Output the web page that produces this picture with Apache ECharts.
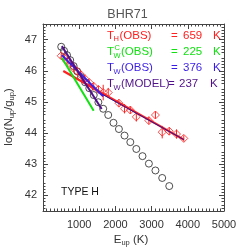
<!DOCTYPE html>
<html>
<head>
<meta charset="utf-8">
<script src="https://cdn.jsdelivr.net/npm/echarts@6/dist/echarts.min.js"></script>
<style>html,body{margin:0;padding:0;background:#fff}#c{width:249px;height:249px}</style>
</head>
<body>
<div id="c"></div>
<script>
// Model (open circles)
var modelE = [503,581,664,752,846,946,1051,1162,1279,1402,1530,1663,1802,1947,2097,2252,2412,2578,2749,2925,3106,3293,3488];
var modelLogN = [46.77,46.64,46.50,46.34,46.15,45.98,45.80,45.63,45.44,45.22,44.99,44.78,44.58,44.33,44.13,43.92,43.71,43.49,43.26,43.02,42.80,42.56,42.30];
// Observations (red diamonds with error bars)
var obsE = [503,581,664,752,846,946,1051,1162,1279,1402,1530,1663,1802,2097,2252,2412,2578,2925,3106,3293,3488,3688,3889];
var obsLogN = [46.48,46.42,46.30,46.22,46.08,45.98,45.87,45.74,45.62,45.50,45.40,45.30,45.30,44.96,44.78,44.74,44.52,44.40,44.58,44.03,44.06,43.97,43.83];
var obsErr = [0.08,0.08,0.08,0.08,0.08,0.10,0.10,0.10,0.10,0.12,0.12,0.25,0.15,0.12,0.15,0.12,0.15,0.12,0.12,0.20,0.12,0.15,0.10];
// Fit lines (endpoints)
var hotObsE = [560,3890], hotObsY = [45.99,43.79];
var hotModE = [1600,3890], hotModY = [45.27,43.79];
var warmCObsE = [520,1400], warmCObsY = [46.42,44.72];
var warmObsE = [520,1660], warmObsY = [46.50,45.18];
var warmModE = [520,1620], warmModY = [46.79,44.77];
// Axis ticks
var xTicks = [1000,2000,3000,4000,5000];
var yTicks = [42,43,44,45,46,47];

var zip = function(a,b){return a.map(function(v,i){return [v,b[i]];});};
var FONT = '"Liberation Sans", Arial, sans-serif';
var RED='#ff2020', GREEN='#11e011', BLUE='#3a1ee6', PURPLE='#50118a', NAVY='#22169a';

var chart = echarts.init(document.getElementById('c'), null, {renderer:'canvas'});

function axisX(pos, showLabel){
  return {type:'value', position:pos, min:0, max:5000, interval:1000,
    axisLine:{show:true, onZero:false, lineStyle:{color:'#444', width:1}},
    axisTick:{show:true, inside:true, length:5, lineStyle:{color:'#444'}},
    minorTick:{show:true, splitNumber:10, length:2.5, lineStyle:{color:'#444'}},
    splitLine:{show:false},
    axisLabel:{show:showLabel, color:'#333', fontSize:11, fontFamily:FONT, margin:8,
      formatter:function(v){return xTicks.indexOf(v)>=0 ? String(v) : '';}}
  };
}
function axisY(pos, showLabel){
  return {type:'value', position:pos, min:41.5, max:47.5, interval:0.5,
    axisLine:{show:true, onZero:false, lineStyle:{color:'#444', width:1}},
    axisTick:{show:true, inside:true, length:5, customValues:yTicks, lineStyle:{color:'#444'}},
    minorTick:{show:true, splitNumber:5, length:2.5, lineStyle:{color:'#444'}},
    splitLine:{show:false},
    axisLabel:{show:showLabel, color:'#333', fontSize:11, fontFamily:FONT, margin:6, customValues:yTicks,
      formatter:function(v){return yTicks.indexOf(v)>=0 ? String(v) : '';}}
  };
}

function txt(x,y,s,color,size,align,extra){
  var o = {type:'text', x:x, y:y, z:100, silent:true,
    style:{text:s, fill:color, font:size+'px '+FONT, fontSize:size, fontFamily:FONT,
      textAlign:align||'left', align:align||'left', textVerticalAlign:'middle', verticalAlign:'middle'}};
  if(extra){for(var k in extra){o[k]=extra[k];}}
  return o;
}

var rows = [
  {y:35.5, sub:'H', sup:null, par:'(OBS)', val:'659', color:RED, eq:171, vx:183, kx:213},
  {y:52, sub:'W', sup:'C', par:'(OBS)', val:'225', color:GREEN, eq:171, vx:183, kx:213},
  {y:68, sub:'W', sup:null, par:'(OBS)', val:'376', color:BLUE, eq:171, vx:183, kx:213},
  {y:84, sub:'W', sup:null, par:'(MODEL)', val:'237', color:PURPLE, eq:168, vx:179, kx:210}
];
var graphics = [];
rows.forEach(function(r){
  graphics.push(txt(107, r.y, 'T', r.color, 11.5));
  graphics.push(txt(113.5, r.y+3.5, r.sub, r.color, 7.5));
  if(r.sup) graphics.push(txt(114.5, r.y-4.5, r.sup, r.color, 7.5));
  graphics.push(txt(r.sub==='W'?121:119.5, r.y, r.par, r.color, 11.5));
  graphics.push(txt(r.eq, r.y, '=', r.color, 11.5));
  graphics.push(txt(r.vx, r.y, r.val, r.color, 11.5));
  graphics.push(txt(r.kx, r.y, 'K', r.color, 11.5));
});
graphics.push(txt(127.5, 14.5, 'BHR71', '#555', 12.5, 'center'));
graphics.push(txt(61, 192, 'TYPE H', '#111', 10.5));
// x-axis name
graphics.push({type:'text', x:131, y:240, silent:true,
  style:{text:'{n|E}{s|up}{n| (K)}', fill:'#333', textAlign:'center', align:'center', textVerticalAlign:'middle', verticalAlign:'middle',
    rich:{n:{fontSize:11.5, fontFamily:FONT, fill:'#333', color:'#333', lineHeight:14},
          s:{fontSize:7.5, fontFamily:FONT, fill:'#333', color:'#333', lineHeight:8, verticalAlign:'bottom'}}}});
// y-axis name
graphics.push({type:'text', x:9, y:117, rotation:Math.PI/2, silent:true,
  style:{text:'{n|log(N}{s|up}{n|/g}{s|up}{n|)}', fill:'#333', textAlign:'center', align:'center', textVerticalAlign:'middle', verticalAlign:'middle',
    rich:{n:{fontSize:11.5, fontFamily:FONT, fill:'#333', color:'#333', lineHeight:14},
          s:{fontSize:7.5, fontFamily:FONT, fill:'#333', color:'#333', lineHeight:8, verticalAlign:'bottom'}}}});

function lineSeries(E,Y,color,w,z){
  return {type:'line', data:zip(E,Y), symbol:'none', z:z, animation:false,
    lineStyle:{color:color, width:w}};
}

chart.setOption({
  animation:false,
  backgroundColor:'#fff',
  grid:{left:43, right:25, top:24, bottom:38, containLabel:false},
  xAxis:[axisX('bottom', true), axisX('top', false)],
  yAxis:[axisY('left', true), axisY('right', false)],
  graphic:graphics,
  series:[
    {type:'scatter', data:zip(modelE, modelLogN), symbol:'circle', symbolSize:7, z:2,
      itemStyle:{color:'rgba(0,0,0,0)', borderColor:'#222', borderWidth:1}},
    {type:'custom', z:3, data:obsE.map(function(e,i){return [e, obsLogN[i]-obsErr[i], obsLogN[i]+obsErr[i]];}),
      renderItem:function(params, api){
        var p1 = api.coord([api.value(0), api.value(1)]);
        var p2 = api.coord([api.value(0), api.value(2)]);
        return {type:'line', shape:{x1:p1[0], y1:p1[1], x2:p2[0], y2:p2[1]}, style:{stroke:RED, lineWidth:1}};
      }},
    {type:'scatter', data:zip(obsE, obsLogN), symbol:'diamond', symbolSize:8, z:4,
      itemStyle:{color:'rgba(0,0,0,0)', borderColor:RED, borderWidth:1}},
    lineSeries(hotObsE, hotObsY, RED, 2.2, 5),
    lineSeries(hotModE, hotModY, NAVY, 1, 6),
    lineSeries(warmCObsE, warmCObsY, GREEN, 2, 7),
    lineSeries(warmObsE, warmObsY, BLUE, 2, 8),
    lineSeries(warmModE, warmModY, PURPLE, 2, 9)
  ]
});
</script>
</body>
</html>
